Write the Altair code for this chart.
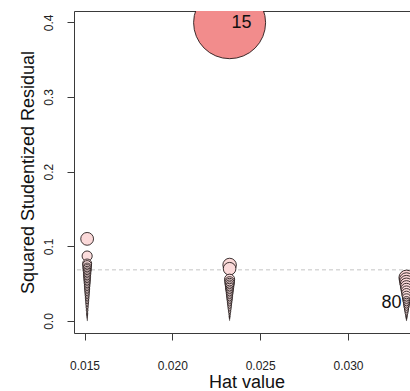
import altair as alt
import pandas as pd

# Leverage (hat value) shared by every observation in each of the three groups
hat_g1 = 0.01515
hat_g2 = 0.02326
hat_g3 = 0.03333

# Squared studentized residuals, per group
resid_g1 = [0.110, 0.087, 0.077, 0.075, 0.072, 0.070, 0.068, 0.066, 0.064, 0.062,
            0.060, 0.058, 0.056, 0.054, 0.052, 0.050, 0.048, 0.046, 0.044, 0.042,
            0.040, 0.038, 0.036, 0.034, 0.032, 0.030, 0.028, 0.026, 0.024, 0.022,
            0.020, 0.018, 0.016, 0.014, 0.012, 0.010, 0.009, 0.008, 0.007, 0.006,
            0.005, 0.004, 0.003, 0.002, 0.0015, 0.001, 0.0007, 0.0004, 0.0002, 0.0001]
resid_g2 = [0.3995, 0.075, 0.070, 0.056, 0.053, 0.051, 0.049, 0.047, 0.045, 0.043,
            0.041, 0.039, 0.037, 0.035, 0.033, 0.031, 0.029, 0.027, 0.025, 0.023,
            0.021, 0.019, 0.017, 0.015, 0.013, 0.011, 0.009, 0.007, 0.006, 0.005,
            0.004, 0.003, 0.002, 0.001, 0.0005]
resid_g3 = [0.058, 0.055, 0.052, 0.049, 0.046, 0.043, 0.040, 0.037, 0.034, 0.031,
            0.028, 0.026, 0.024, 0.022, 0.020, 0.018, 0.016, 0.014, 0.012, 0.010,
            0.008, 0.006, 0.005, 0.004, 0.003, 0.002, 0.001, 0.0005]

# Observation ids printed next to flagged points: (group, index in group, id)
flagged = [(2, 0, "15"), (3, 12, "80")]

# Reference cut-off drawn as a dashed horizontal line
ref_line = 0.0685

x_ticks = [0.015, 0.020, 0.025, 0.030]
y_ticks = [0.0, 0.1, 0.2, 0.3, 0.4]

rows = []
for g, h, vals in [(1, hat_g1, resid_g1), (2, hat_g2, resid_g2), (3, hat_g3, resid_g3)]:
    for i, v in enumerate(vals):
        rows.append({"group": g, "idx": i, "hat": h, "sq_resid": v, "obs": ""})
df = pd.DataFrame(rows)
for g, i, name in flagged:
    df.loc[(df.group == g) & (df.idx == i), "obs"] = name

FONT = "Liberation Sans"
AXIS_COL = "#3a3a3a"

x_scale = alt.Scale(domain=[0.014402, 0.033529], nice=False, zero=False)
y_scale = alt.Scale(domain=[-0.01606, 0.41513], nice=False, zero=False)

base = alt.Chart(df)

points = base.mark_circle(
    stroke="#1a1010", strokeWidth=0.85, opacity=1, fillOpacity=1, clip=True
).transform_calculate(
    # Cook's distance (up to a constant) from residual and leverage
    cook="datum.sq_resid * datum.hat / (1 - datum.hat)"
).encode(
    x=alt.X("hat:Q", scale=x_scale, axis=alt.Axis(
        orient="bottom", values=x_ticks, format=".3f", grid=False,
        labelFont=FONT, labelFontSize=12, labelColor="#222222",
        labelBaseline="top", labelPadding=20, labelFlush=False,
        tickSize=7, tickColor=AXIS_COL, domainColor=AXIS_COL,
        title="Hat value", titleFont=FONT, titleFontSize=18,
        titleFontWeight="normal", titleColor="#111111",
        titleBaseline="alphabetic", titleAlign="center",
        titleX=172.5, titleY=54.5)),
    y=alt.Y("sq_resid:Q", scale=y_scale, axis=alt.Axis(
        values=y_ticks, format=".1f", grid=False,
        labelFont=FONT, labelFontSize=12, labelColor="#222222",
        labelAngle=-90, labelAlign="center", labelBaseline="bottom",
        labelPadding=12, labelFlush=False,
        tickSize=7, tickColor=AXIS_COL, domainColor=AXIS_COL,
        title="Squared Studentized Residual", titleFont=FONT, titleFontSize=18,
        titleFontWeight="normal", titleColor="#111111", titleAngle=-90,
        titleBaseline="alphabetic", titleAlign="center",
        titleX=-40.5, titleY=161)),
    size=alt.Size("cook:Q", scale=alt.Scale(type="pow", exponent=2, zero=True,
                                             range=[0, 5184]), legend=None),
    fill=alt.Fill("cook:Q", scale=alt.Scale(range=["#FBEAEA", "#F28C8C"]),
                  legend=None),
)

ref = alt.Chart(pd.DataFrame({"ref": [ref_line]})).mark_rule(
    color="#c4c4c4", strokeDash=[4, 3], strokeWidth=1
).encode(y=alt.Y("ref:Q", scale=y_scale, axis=None))

label_15 = base.transform_filter(alt.datum.obs == "15").mark_text(
    align="left", baseline="middle", dx=2, font=FONT, fontSize=18, color="#111111"
).encode(
    x=alt.X("hat:Q", scale=x_scale, axis=alt.Axis(
        orient="top", labels=False, ticks=False, grid=False, title=None,
        domainColor=AXIS_COL)),
    y=alt.Y("sq_resid:Q", scale=y_scale, axis=None),
    text="obs:N",
)

label_80 = base.transform_filter(alt.datum.obs == "80").mark_text(
    align="right", baseline="middle", dx=-5, font=FONT, fontSize=18, color="#111111"
).encode(
    x=alt.X("hat:Q", scale=x_scale, axis=None),
    y=alt.Y("sq_resid:Q", scale=y_scale, axis=None),
    text="obs:N",
)

chart = alt.layer(ref, points, label_15, label_80).resolve_axis(
    x="independent", y="independent"
).properties(
    width=336, height=322,
    autosize=alt.AutoSizeParams(type="none"),
    padding={"left": 74, "top": 11, "right": 0, "bottom": 58},
).configure_view(stroke=None).configure(background="white")

chart.save("out.html", embed_options={"renderer": "svg", "actions": False})
